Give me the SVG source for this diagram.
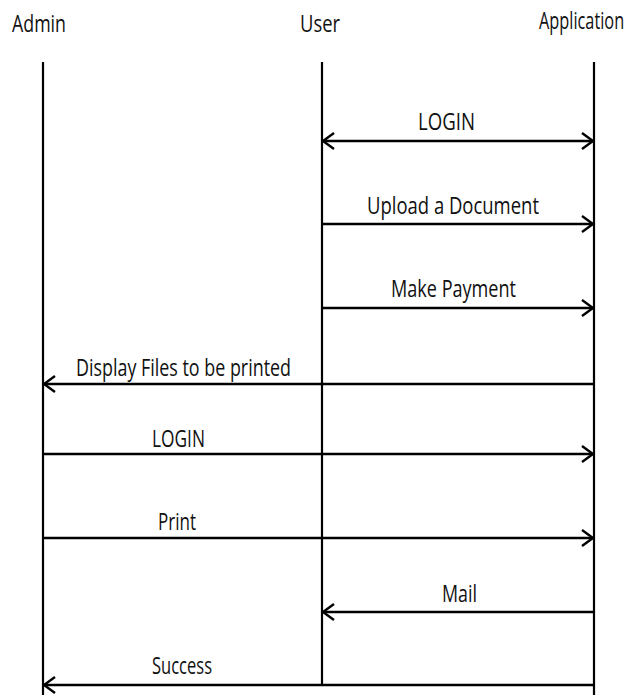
<svg xmlns="http://www.w3.org/2000/svg" width="639" height="695" viewBox="0 0 639 695">
  <style>
    .bg { fill: #ffffff; }
    .life { stroke: #000; stroke-width: 2.2; fill: none; }
    .msg { stroke: #000; stroke-width: 2.6; fill: none; }
    .lbl { font-family: "Open Sans", "Liberation Sans", sans-serif; font-size: 24px; fill: #111; }
  </style>
  <defs>
    <marker id="head" markerUnits="userSpaceOnUse" viewBox="-14 -10 16 20" markerWidth="16" markerHeight="20" refX="0" refY="0" orient="auto-start-reverse">
      <path d="M -11 -8 L 0 0 L -11 8" fill="none" stroke="#000" stroke-width="2.4"/>
    </marker>
  </defs>
  <rect class="bg" x="0" y="0" width="639" height="695"/>

  <!-- participants with their lifelines -->
  <g id="admin">
    <text class="lbl" x="12" y="32" textLength="54" lengthAdjust="spacingAndGlyphs">Admin</text>
    <line class="life" x1="43" y1="62" x2="43" y2="695"/>
  </g>
  <g id="user">
    <text class="lbl" x="300" y="32" textLength="40" lengthAdjust="spacingAndGlyphs">User</text>
    <line class="life" x1="322" y1="62" x2="322" y2="685"/>
  </g>
  <g id="application">
    <!-- condensed horizontally so the label stays inside the right edge -->
    <text class="lbl" transform="translate(539,29) scale(0.68,1)">Application</text>
    <line class="life" x1="594" y1="62" x2="594" y2="695"/>
  </g>

  <!-- messages -->
  <g id="messages">
    <line class="msg" x1="323" y1="141" x2="593" y2="141" marker-start="url(#head)" marker-end="url(#head)"/>
    <text class="lbl" x="418" y="130" textLength="57" lengthAdjust="spacingAndGlyphs">LOGIN</text>

    <line class="msg" x1="322" y1="224" x2="593" y2="224" marker-end="url(#head)"/>
    <text class="lbl" x="367" y="214" textLength="172" lengthAdjust="spacingAndGlyphs">Upload a Document</text>

    <line class="msg" x1="322" y1="308" x2="593" y2="308" marker-end="url(#head)"/>
    <text class="lbl" x="391" y="297" textLength="125" lengthAdjust="spacingAndGlyphs">Make Payment</text>

    <line class="msg" x1="594" y1="384" x2="44" y2="384" marker-end="url(#head)"/>
    <text class="lbl" x="76" y="376" textLength="215" lengthAdjust="spacingAndGlyphs">Display Files to be printed</text>

    <line class="msg" x1="43" y1="454" x2="593" y2="454" marker-end="url(#head)"/>
    <text class="lbl" x="152" y="447" textLength="53" lengthAdjust="spacingAndGlyphs">LOGIN</text>

    <line class="msg" x1="43" y1="538" x2="593" y2="538" marker-end="url(#head)"/>
    <text class="lbl" x="158" y="530" textLength="38" lengthAdjust="spacingAndGlyphs">Print</text>

    <line class="msg" x1="594" y1="612" x2="323" y2="612" marker-end="url(#head)"/>
    <text class="lbl" x="442" y="602" textLength="35" lengthAdjust="spacingAndGlyphs">Mail</text>

    <line class="msg" x1="594" y1="685" x2="44" y2="685" marker-end="url(#head)"/>
    <text class="lbl" x="152" y="674" textLength="60" lengthAdjust="spacingAndGlyphs">Success</text>
  </g>
</svg>
